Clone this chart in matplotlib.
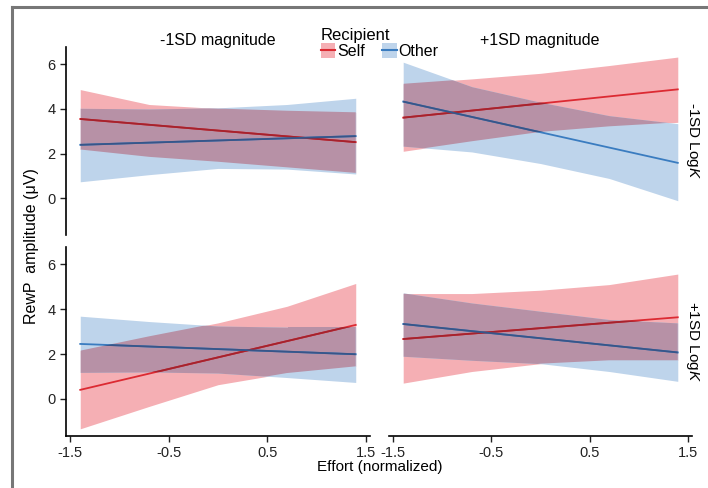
import matplotlib
matplotlib.use("Agg")
import matplotlib.pyplot as plt
from matplotlib.lines import Line2D
from matplotlib.patches import Patch
from matplotlib.colors import to_rgb

plt.rcParams['font.family'] = ['Liberation Sans', 'DejaVu Sans']
plt.rcParams['mathtext.fontset'] = 'custom'
plt.rcParams['mathtext.rm'] = 'Liberation Sans'
plt.rcParams['mathtext.it'] = 'Liberation Sans:italic'

# effort positions
x_line = [-1.4, 1.4]
x_band = [-1.4, -0.7, 0.0, 0.7, 1.4]

# -1SD magnitude, -1SD LogK
tl_self = [3.55, 2.51]
tl_other = [2.39, 2.78]
tl_self_hi = [4.87, 4.20, 4.02, 3.92, 3.85]
tl_self_lo = [2.18, 1.85, 1.63, 1.38, 1.13]
tl_other_hi = [4.03, 4.00, 4.05, 4.20, 4.48]
tl_other_lo = [0.73, 1.05, 1.33, 1.30, 1.08]

# +1SD magnitude, -1SD LogK
tr_self = [3.61, 4.88]
tr_other = [4.33, 1.58]
tr_self_hi = [5.13, 5.35, 5.60, 5.95, 6.33]
tr_self_lo = [2.10, 2.55, 2.97, 3.22, 3.40]
tr_other_hi = [6.10, 5.00, 4.30, 3.70, 3.34]
tr_other_lo = [2.33, 2.07, 1.55, 0.88, -0.12]

# -1SD magnitude, +1SD LogK
bl_self = [0.40, 3.30]
bl_other = [2.45, 1.99]
bl_self_hi = [2.15, 2.79, 3.39, 4.13, 5.15]
bl_self_lo = [-1.34, -0.34, 0.63, 1.15, 1.45]
bl_other_hi = [3.69, 3.45, 3.25, 3.20, 3.20]
bl_other_lo = [1.18, 1.20, 1.15, 0.95, 0.73]

# +1SD magnitude, +1SD LogK
br_self = [2.67, 3.64]
br_other = [3.34, 2.07]
br_self_hi = [4.70, 4.70, 4.85, 5.10, 5.57]
br_self_lo = [0.70, 1.22, 1.57, 1.72, 1.72]
br_other_hi = [4.73, 4.28, 3.91, 3.54, 3.39]
br_other_lo = [1.90, 1.72, 1.57, 1.22, 0.78]

panels = [
    (tl_self, tl_other, tl_self_lo, tl_self_hi, tl_other_lo, tl_other_hi),
    (tr_self, tr_other, tr_self_lo, tr_self_hi, tr_other_lo, tr_other_hi),
    (bl_self, bl_other, bl_self_lo, bl_self_hi, bl_other_lo, bl_other_hi),
    (br_self, br_other, br_self_lo, br_self_hi, br_other_lo, br_other_hi),
]

col_titles = ["-1SD magnitude", "+1SD magnitude"]
row_titles = [r"-1SD Log$\it{K}$", r"+1SD Log$\it{K}$"]

red_line = '#dc2a32'
blue_line = '#3a7cc0'
red_fill = '#f5afb4'
blue_fill = '#bed4eb'


def mult(a, b):
    # multiply blend, like the overlapping ribbons in the original
    return tuple(p * q for p, q in zip(to_rgb(a), to_rgb(b)))


fig = plt.figure(figsize=(7.08, 4.88), dpi=100)

lefts = [0.0932, 0.5494]
widths = [0.4294, 0.428]
bottoms = [0.5184, 0.1066]
heights = [0.3852, 0.3873]

for i, (s, o, slo, shi, olo, ohi) in enumerate(panels):
    r, c = divmod(i, 2)
    ax = fig.add_axes([lefts[c], bottoms[r], widths[c], heights[r]])
    rb = ax.fill_between(x_band, slo, shi, color=red_fill, lw=0, zorder=1)
    bb = ax.fill_between(x_band, olo, ohi, color=blue_fill, lw=0, zorder=2)
    ov = ax.fill_between(x_band, olo, ohi, color=mult(red_fill, blue_fill), lw=0, zorder=3)
    ov.set_clip_path(rb.get_paths()[0], ax.transData)

    ax.plot(x_line, s, color=red_line, lw=1.3, zorder=4)
    ax.plot(x_line, o, color=blue_line, lw=1.3, zorder=4)
    l1, = ax.plot(x_line, s, color=mult(red_line, blue_fill), lw=1.3, zorder=5)
    l1.set_clip_path(bb.get_paths()[0], ax.transData)
    l2, = ax.plot(x_line, o, color=mult(blue_line, red_fill), lw=1.3, zorder=5)
    l2.set_clip_path(rb.get_paths()[0], ax.transData)

    ax.set_xlim(-1.545, 1.545)
    ax.set_ylim(-1.66, 6.78)
    for sp in ['top', 'right']:
        ax.spines[sp].set_visible(False)
    ax.spines['left'].set_visible(c == 0)
    ax.spines['bottom'].set_visible(r == 1)
    ax.spines['left'].set_linewidth(1.2)
    ax.spines['bottom'].set_linewidth(1.2)
    ax.tick_params(labelsize=10.5, colors='#222222', length=4, width=1.0)
    if c == 0:
        ax.set_yticks([0, 2, 4, 6])
    else:
        ax.set_yticks([])
    if r == 1:
        ax.set_xticks([-1.5, -0.5, 0.5, 1.5])
        ax.set_xticklabels(['-1.5', '-0.5', '0.5', '1.5'])
    else:
        ax.set_xticks([])

# facet strips
fig.text(218 / 708, 1 - 40 / 488, col_titles[0], ha='center', va='center', fontsize=11.5)
fig.text(540 / 708, 1 - 40 / 488, col_titles[1], ha='center', va='center', fontsize=11.5)
fig.text(692 / 708, 1 - 141 / 488, row_titles[0], rotation=-90, ha='center', va='center', fontsize=11)
fig.text(692 / 708, 1 - 341 / 488, row_titles[1], rotation=-90, ha='center', va='center', fontsize=11)

fig.text(32 / 708, 1 - 246 / 488, "RewP  amplitude (\u03bcV)", rotation=90,
         va='center', ha='center', fontsize=11.5)
fig.text(380 / 708, 1 - 467 / 488, "Effort (normalized)", va='center',
         ha='center', fontsize=11)

handles = [(Patch(facecolor=red_fill, edgecolor='none'), Line2D([], [], color=red_line, lw=1.5)),
           (Patch(facecolor=blue_fill, edgecolor='none'), Line2D([], [], color=blue_line, lw=1.5))]
leg = fig.legend(handles, ['Self', 'Other'], title='Recipient', ncol=2, frameon=False,
                 loc='upper left', bbox_to_anchor=(313 / 708, 1 - 20 / 488), fontsize=11.5,
                 title_fontsize=12, handlelength=0.9, handleheight=1.1, handletextpad=0.1,
                 columnspacing=1.1, borderpad=0, labelspacing=0, alignment='left')

# grey frame around the figure
fig.add_artist(Line2D([12 / 708, 1], [1 - 7 / 488, 1 - 7 / 488], color='#777777', lw=2.2))
fig.add_artist(Line2D([12 / 708, 12 / 708], [0, 1 - 7 / 488], color='#777777', lw=2.2))

fig.savefig('out.png', dpi=100)
